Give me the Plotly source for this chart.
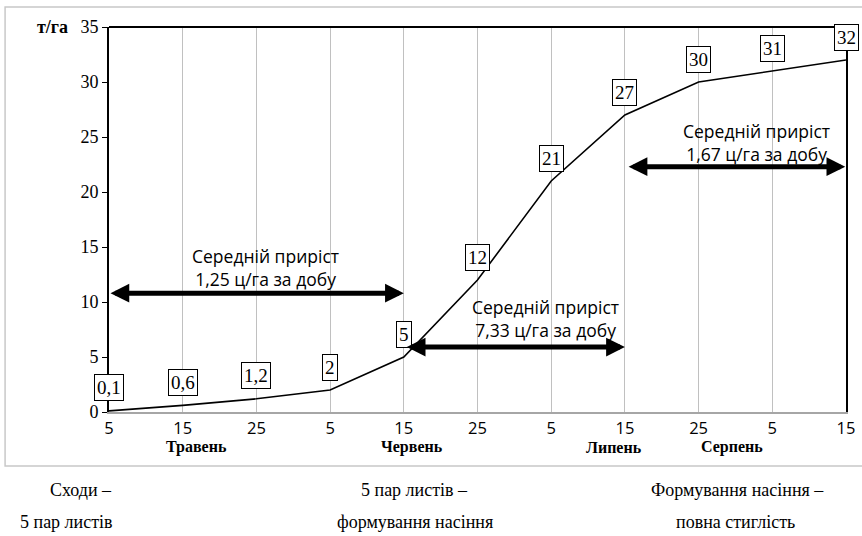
import plotly.graph_objects as go

# ---- data ----
day_labels = ["5", "15", "25", "5", "15", "25", "5", "15", "25", "5", "15"]
yield_t_ha = [0.1, 0.6, 1.2, 2, 5, 12, 21, 27, 30, 31, 32]
value_labels = ["0,1", "0,6", "1,2", "2", "5", "12", "21", "27", "30", "31", "32"]
months = ["Травень", "Червень", "Липень", "Серпень"]
month_pos = [1.19, 4.11, 6.85, 8.45]

# average-gain periods (start index, end index, level, text)
period_start = [0, 4.02, 7.03]
period_end = [4.0, 7.0, 9.99]
period_level = [10.8, 5.9, 22.3]
period_text = ["Середній приріст<br>1,25 ц/га за добу",
               "Середній приріст<br>7,33 ц/га за добу",
               "Середній приріст<br>1,67 ц/га за добу"]
period_text_x = [2.12, 5.92, 8.78]
period_text_y = [13.1, 8.5, 24.5]

phase_lines = [["Сходи –", "5 пар листів"],
               ["5 пар листів –", "формування насіння"],
               ["Формування насіння –", "повна стиглість"]]
phase_x = [[-0.038, -0.058], [0.415, 0.415], [0.853, 0.850]]

x_idx = list(range(len(yield_t_ha)))

SERIF = "Liberation Serif, Times New Roman, serif"
SANS = "Open Sans, Lato, sans-serif"

fig = go.Figure()
fig.add_trace(go.Scatter(
    x=x_idx, y=yield_t_ha, mode="lines",
    line=dict(color="black", width=1.6),
    hoverinfo="skip", showlegend=False, cliponaxis=False,
))

ann = []
# data labels in boxes
for xi, v, t in zip(x_idx, yield_t_ha, value_labels):
    ann.append(dict(x=xi, y=v, xref="x", yref="y", text=t, showarrow=False,
                    xanchor="center", yshift=23,
                    font=dict(family=SERIF, size=19, color="black"),
                    bordercolor="black", borderwidth=1, borderpad=2,
                    bgcolor="white"))
# arrows
for s, e, lv in zip(period_start, period_end, period_level):
    ann.append(dict(x=e, y=lv, ax=s, ay=lv, xref="x", yref="y",
                    axref="x", ayref="y", text="", showarrow=True,
                    arrowhead=2, arrowside="end+start", arrowsize=0.75,
                    arrowwidth=5, arrowcolor="black"))
# arrow texts
for tx, ty, t in zip(period_text_x, period_text_y, period_text):
    ann.append(dict(x=tx, y=ty, xref="x", yref="y", text=t, showarrow=False,
                    xanchor="center",
                    font=dict(family=SANS, size=17.5, color="black")))
# month labels
for mp, m in zip(month_pos, months):
    ann.append(dict(x=mp, y=0, xref="x", yref="paper", text="<b>%s</b>" % m,
                    showarrow=False, yshift=-35, yanchor="middle",
                    xanchor="center",
                    font=dict(family=SERIF, size=16, color="black")))
# y title
ann.append(dict(x=0, y=1, xref="paper", yref="paper", text="<b>т/га</b>",
                showarrow=False, xshift=-39, xanchor="right", yanchor="middle",
                font=dict(family=SERIF, size=18, color="black")))
# phase texts below
for lines, xs in zip(phase_lines, phase_x):
    for k, (ln, px) in enumerate(zip(lines, xs)):
        ann.append(dict(x=px, y=0, xref="paper", yref="paper", text=ln,
                        showarrow=False, yshift=-78 - 32 * k, yanchor="middle",
                        xanchor="center",
                        font=dict(family=SERIF, size=18, color="black")))

shapes = [
    # outer chart border
    dict(type="rect", xref="paper", yref="paper", x0=-0.141, x1=1.04,
         y0=-0.140, y1=1.052, line=dict(color="#c8c8c8", width=1.5)),
    # top border of plot
    dict(type="line", xref="paper", yref="paper", x0=0, x1=1, y0=1, y1=1,
         line=dict(color="black", width=2)),
]

fig.update_layout(
    width=862, height=536,
    margin=dict(l=109, r=16, t=27, b=124),
    plot_bgcolor="white", paper_bgcolor="white",
    annotations=ann, shapes=shapes,
    xaxis=dict(range=[0, 10], tickmode="array", tickvals=x_idx,
               ticktext=day_labels, showgrid=True, gridcolor="#c0c0c0",
               gridwidth=1, showline=True, linecolor="#a6a6a6", linewidth=2,
               ticks="", zeroline=False, automargin=False,
               tickfont=dict(family=SANS, size=16.5, color="black")),
    yaxis=dict(range=[0, 35], dtick=5, showgrid=False, zeroline=False,
               showline=True, linecolor="black", linewidth=2, mirror=True,
               ticks="outside", ticklen=5, tickcolor="black",
               automargin=False,
               tickfont=dict(family=SERIF, size=18, color="black")),
)

fig.write_html("out.html", config={"displayModeBar": False},
               post_script="document.body.style.margin='0';"
                           "document.body.style.overflow='hidden';")
